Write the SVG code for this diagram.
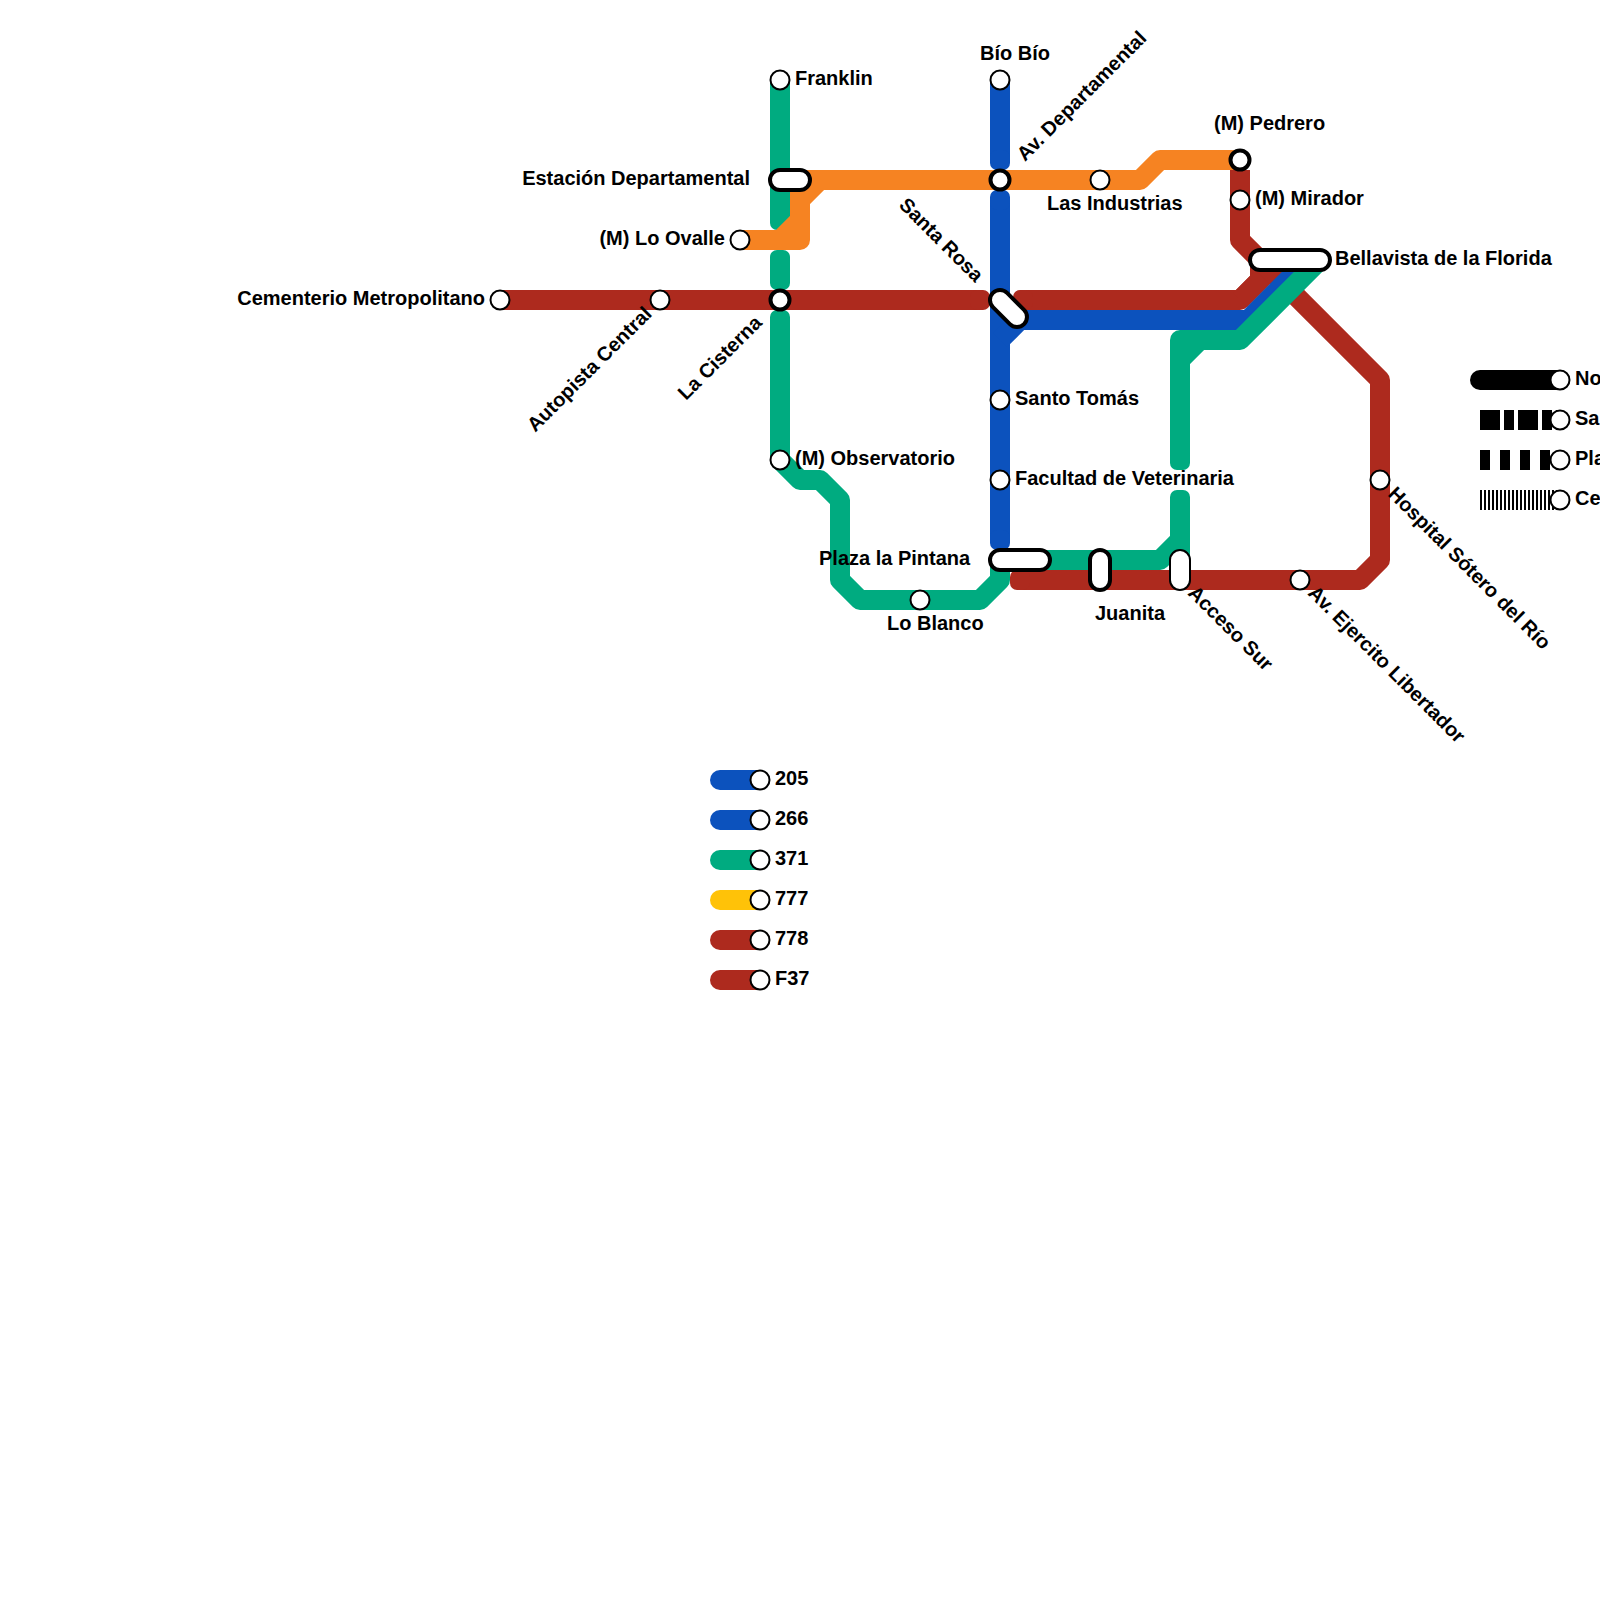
<svg xmlns="http://www.w3.org/2000/svg" width="1600" height="1600" viewBox="0 0 1600 1600">
<style>
text{font-family:"Liberation Sans",Arial,sans-serif;font-weight:700;font-size:20px;fill:#000}
.l{fill:none;stroke-width:20;stroke-linejoin:round;stroke-linecap:butt}
.blue{stroke:#0c52bd}.green{stroke:#00ab80}.orange{stroke:#f68322}.red{stroke:#ad2a1e}.yellow{stroke:#ffc208}
.fblue{fill:#0c52bd}.fgreen{fill:#00ab80}.forange{fill:#f68322}.fred{fill:#ad2a1e}
.s{fill:#fff;stroke:#000;stroke-width:2}
.t{fill:#fff;stroke:#000;stroke-width:4}
.e{text-anchor:end}
.lg{fill:none;stroke-width:20;stroke-linecap:round}
.d{fill:none;stroke:#000;stroke-width:20}
</style>
<rect width="1600" height="1600" fill="#fff"/>
<g id="connectors">
<path class="l red" d="M500 300H980"/><rect class="fred" x="970" y="290" width="20" height="20" rx="7"/>
<path class="l red" d="M1022 300H1240L1260 280V260"/><path class="l red" d="M1240 300L1280 260"/><rect class="fred" x="1013" y="290" width="20" height="20" rx="7"/>
<path class="l red" d="M1240 170V240L1380 380V560L1360 580H1020"/><rect class="fred" x="1010" y="570" width="20" height="20" rx="7"/>
<path class="l blue" d="M1000 80V160"/><rect class="fblue" x="990" y="150" width="20" height="20" rx="7"/>
<path class="l blue" d="M1000 200V540"/><rect class="fblue" x="990" y="190" width="20" height="20" rx="7"/><rect class="fblue" x="990" y="530" width="20" height="20" rx="7"/>
<path class="l blue" d="M1000 340L1020 320H1248L1308 260"/>
<path class="l green" d="M780 80V220"/><rect class="fgreen" x="770" y="210" width="20" height="20" rx="7"/>
<rect class="fgreen" x="770" y="250" width="20" height="40" rx="7"/>
<path class="l green" d="M780 320V460L800 480H820L840 500V580L860 600H980L1000 580V560"/><rect class="fgreen" x="770" y="310" width="20" height="20" rx="7"/>
<path class="l green" d="M1180 500V540L1160 560H1000"/><path class="l green" d="M1180 540V570"/><rect class="fgreen" x="1170" y="490" width="20" height="20" rx="7"/>
<path class="l green" d="M1180 460V360L1200 340H1240L1320 260"/><path class="l green" d="M1180 360V340H1200"/><rect class="fgreen" x="1170" y="450" width="20" height="20" rx="7"/>
<path class="l orange" d="M740 240H780L800 220V180"/>
<path class="l orange" d="M780 240H800V200L820 180H1140L1160 160H1240"/>
<path class="l orange" d="M800 180H830"/>
</g>
<g id="n-bio-bio"><circle class="s" cx="1000" cy="80" r="9.5"/><text x="980" y="60">Bío Bío</text></g>
<g id="n-franklin"><circle class="s" cx="780" cy="80" r="9.5"/><text x="795" y="85">Franklin</text></g>
<g id="n-estacion"><rect class="t" x="770" y="170" width="40" height="20" rx="10"/><text class="e" x="750" y="185">Estación Departamental</text></g>
<g id="n-av-departamental"><circle class="t" cx="1000" cy="180" r="9.5"/><text x="1025" y="162" transform="rotate(-45 1025 162)">Av. Departamental</text></g>
<g id="n-las-industrias"><circle class="s" cx="1100" cy="180" r="9.5"/><text x="1047" y="210">Las Industrias</text></g>
<g id="n-pedrero"><circle class="t" cx="1240" cy="160" r="9.5"/><text x="1214" y="130">(M) Pedrero</text></g>
<g id="n-mirador"><circle class="s" cx="1240" cy="200" r="9.5"/><text x="1255" y="205">(M) Mirador</text></g>
<g id="n-bellavista"><rect class="t" x="1250" y="250" width="80" height="20" rx="10"/><text x="1335" y="265">Bellavista de la Florida</text></g>
<g id="n-lo-ovalle"><circle class="s" cx="740" cy="240" r="9.5"/><text class="e" x="725" y="245">(M) Lo Ovalle</text></g>
<g id="n-cementerio"><circle class="s" cx="500" cy="300" r="9.5"/><text class="e" x="485" y="305">Cementerio Metropolitano</text></g>
<g id="n-autopista"><circle class="s" cx="660" cy="300" r="9.5"/><text class="e" x="653" y="315" transform="rotate(-45 653 315)">Autopista Central</text></g>
<g id="n-la-cisterna"><circle class="t" cx="780" cy="300" r="9.5"/><text class="e" x="763" y="324" transform="rotate(-45 763 324)">La Cisterna</text></g>
<g id="n-santa-rosa"><rect class="t" x="990" y="290" width="44" height="20" rx="10" transform="rotate(45 1000 300)"/><text x="898" y="206" transform="rotate(45 898 206)">Santa Rosa</text></g>
<g id="n-santo-tomas"><circle class="s" cx="1000" cy="400" r="9.5"/><text x="1015" y="405">Santo Tomás</text></g>
<g id="n-facultad"><circle class="s" cx="1000" cy="480" r="9.5"/><text x="1015" y="485">Facultad de Veterinaria</text></g>
<g id="n-observatorio"><circle class="s" cx="780" cy="460" r="9.5"/><text x="795" y="465">(M) Observatorio</text></g>
<g id="n-plaza"><rect class="t" x="990" y="550" width="60" height="20" rx="10"/><text x="819" y="565">Plaza la Pintana</text></g>
<g id="n-lo-blanco"><circle class="s" cx="920" cy="600" r="9.5"/><text x="887" y="630">Lo Blanco</text></g>
<g id="n-juanita"><rect class="t" x="1090" y="550" width="20" height="40" rx="10"/><text x="1095" y="620">Juanita</text></g>
<g id="n-acceso"><rect class="s" x="1170" y="550" width="20" height="40" rx="10"/><text x="1187" y="594" transform="rotate(45 1187 594)">Acceso Sur</text></g>
<g id="n-ejercito"><circle class="s" cx="1300" cy="580" r="9.5"/><text x="1307" y="594" transform="rotate(45 1307 594)">Av. Ejercito Libertador</text></g>
<g id="n-hospital"><circle class="s" cx="1380" cy="480" r="9.5"/><text x="1387" y="495" transform="rotate(45 1387 495)">Hospital Sótero del Río</text></g>
<g id="legend-lines">
<path class="lg blue" d="M720 780H760"/><circle class="s" cx="760" cy="780" r="9.5"/><text x="775" y="785">205</text>
<path class="lg blue" d="M720 820H760"/><circle class="s" cx="760" cy="820" r="9.5"/><text x="775" y="825">266</text>
<path class="lg green" d="M720 860H760"/><circle class="s" cx="760" cy="860" r="9.5"/><text x="775" y="865">371</text>
<path class="lg yellow" d="M720 900H760"/><circle class="s" cx="760" cy="900" r="9.5"/><text x="775" y="905">777</text>
<path class="lg red" d="M720 940H760"/><circle class="s" cx="760" cy="940" r="9.5"/><text x="775" y="945">778</text>
<path class="lg red" d="M720 980H760"/><circle class="s" cx="760" cy="980" r="9.5"/><text x="775" y="985">F37</text>
</g>
<g id="legend-styles">
<path class="lg" stroke="#000" d="M1480 380H1560"/><circle class="s" cx="1560" cy="380" r="9.5"/><text x="1575" y="385">No</text>
<path class="d" stroke-dasharray="20 4 10 4" d="M1480 420H1560"/><circle class="s" cx="1560" cy="420" r="9.5"/><text x="1575" y="425">Sa</text>
<path class="d" stroke-dasharray="10 10" d="M1480 460H1560"/><circle class="s" cx="1560" cy="460" r="9.5"/><text x="1575" y="465">Pla</text>
<path class="d" stroke-dasharray="2 2" d="M1480 500H1560"/><circle class="s" cx="1560" cy="500" r="9.5"/><text x="1575" y="505">Ce</text>
</g>
</svg>
